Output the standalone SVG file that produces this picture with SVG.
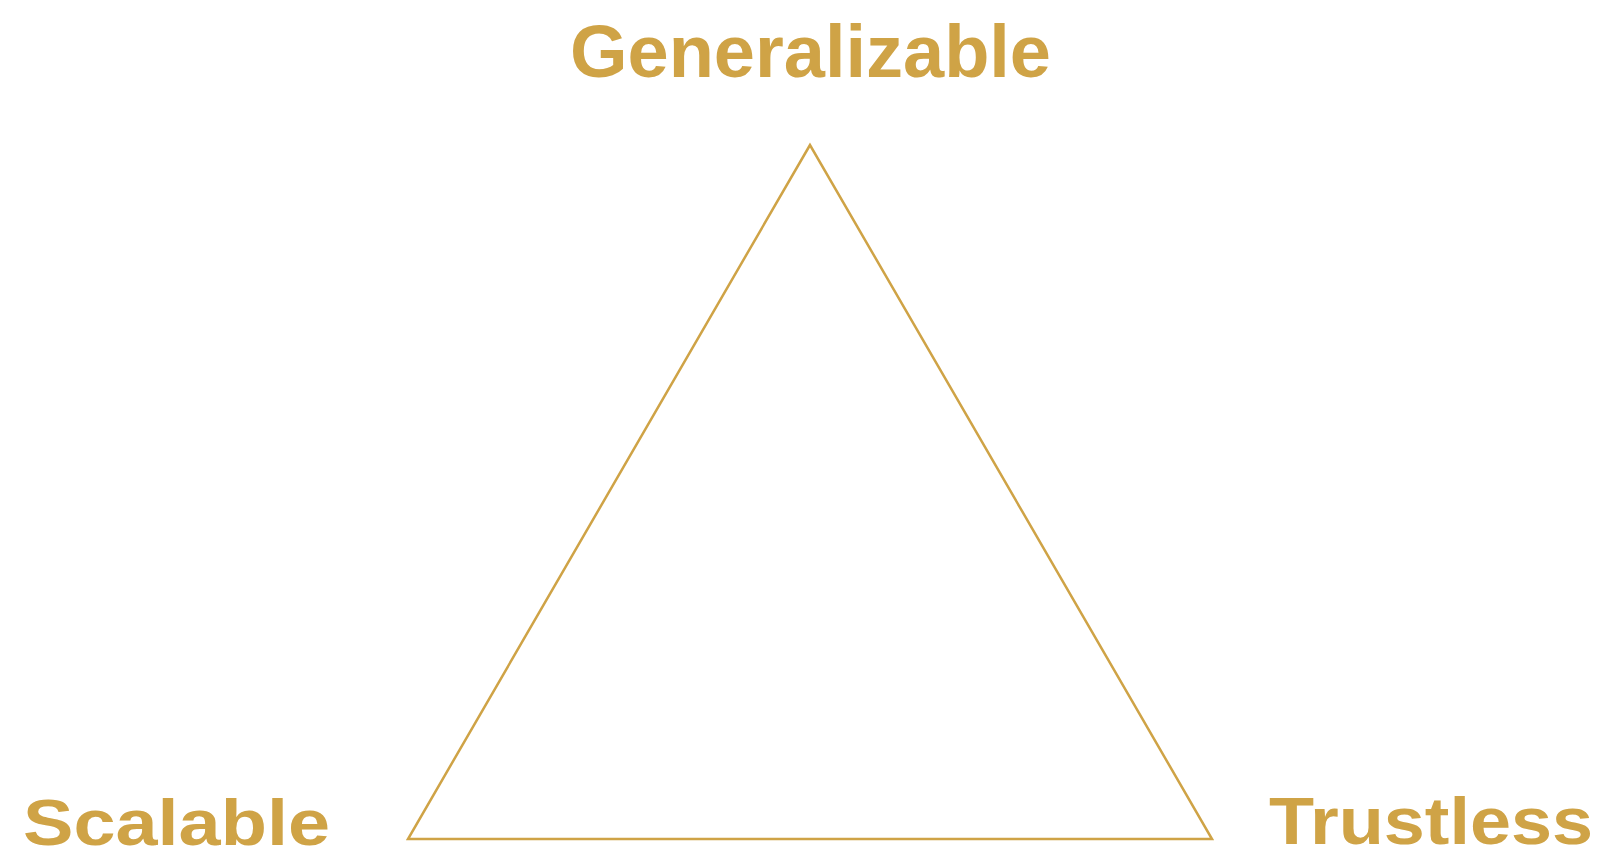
<svg xmlns="http://www.w3.org/2000/svg" width="1601" height="857" viewBox="0 0 1601 857">
  <style>
    .lbl { font-family: "Liberation Sans", Arial, sans-serif; font-weight: bold; fill: #cfa346; }
    .edge { fill: none; stroke: #cfa346; stroke-width: 2.5; stroke-linejoin: miter; }
  </style>
  <rect width="1601" height="857" fill="#ffffff"/>
  <g id="connectors">
    <polygon class="edge" points="810,145 408,839 1212,839"/>
  </g>
  <g id="node-generalizable">
    <text class="lbl" x="570" y="77" font-size="74" textLength="481" lengthAdjust="spacingAndGlyphs">Generalizable</text>
  </g>
  <g id="node-scalable">
    <text class="lbl" x="23" y="845" font-size="64" textLength="307" lengthAdjust="spacingAndGlyphs">Scalable</text>
  </g>
  <g id="node-trustless">
    <text class="lbl" x="1269" y="844" font-size="66" textLength="324" lengthAdjust="spacingAndGlyphs">Trustless</text>
  </g>
</svg>
